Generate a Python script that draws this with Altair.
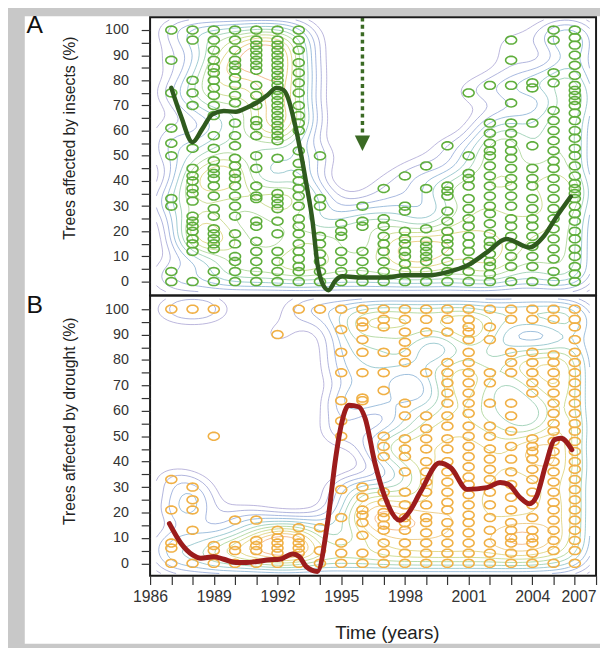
import math
import altair as alt
import numpy as np
import pandas as pd

# ---------------- data ----------------
years = list(range(1987, 2007))

ins_1987 = [100, 88, 75, 61, 55, 50, 33, 30, 4, 0]
ins_1988 = [100, 96, 80, 75, 70, 53, 45, 42, 40, 37, 35, 32, 26, 24, 22, 20, 17, 15, 12, 0]
ins_1989 = [100, 96, 92, 88, 85, 83, 80, 77, 74, 70, 66, 58, 53, 48, 45, 43, 41, 38, 34, 29, 26, 21, 19, 17, 15, 13, 4, 0]
ins_1990 = [100, 96, 92, 88, 86, 84, 81, 78, 74, 71, 63, 58, 54, 49, 46, 43, 41, 38, 34, 30, 26, 19, 15, 10, 8, 4, 0]
ins_1991 = [100, 96, 94, 92, 90, 88, 86, 84, 78, 74, 70, 64, 62, 58, 50, 45, 38, 34, 33, 24, 22, 16, 12, 8, 4, 0]
ins_1992 = [100, 96, 94, 92, 90, 88, 86, 84, 82, 80, 78, 76, 74, 72, 70, 68, 66, 64, 62, 60, 58, 56, 49, 35, 33, 31, 29, 24, 19, 12, 8, 4, 0]
ins_1993 = [100, 96, 92, 87, 83, 79, 75, 70, 66, 63, 60, 52, 47, 43, 40, 37, 34, 30, 25, 22, 19, 15, 12, 9, 6, 4, 0]
ins_1994 = [50, 33, 30, 18, 15, 11, 8, 4, 0]
ins_1995 = [23, 20, 18, 12, 8, 4, 0]
ins_1996 = [30, 24, 22, 12, 8, 4, 0]
ins_1997 = [37, 25, 22, 18, 15, 12, 8, 4, 0]
ins_1998 = [42, 30, 28, 20, 17, 15, 12, 10, 7, 4, 0]
ins_1999 = [46, 37, 21, 16, 14, 12, 10, 8, 4, 0]
ins_2000 = [54, 38, 36, 34, 28, 24, 20, 17, 15, 12, 8, 4, 0]
ins_2001 = [75, 50, 43, 41, 38, 33, 29, 25, 22, 18, 15, 12, 8, 4, 0]
ins_2002 = [78, 63, 59, 55, 52, 50, 46, 42, 38, 34, 30, 27, 23, 19, 16, 14, 11, 8, 6, 3, 0]
ins_2003 = [96, 88, 78, 71, 63, 59, 55, 52, 49, 45, 41, 38, 34, 30, 25, 22, 18, 14, 10, 6, 0]
ins_2004 = [79, 77, 63, 54, 45, 41, 38, 33, 29, 25, 22, 18, 14, 10, 6, 0]
ins_2005 = [100, 96, 83, 79, 68, 64, 60, 56, 52, 48, 45, 41, 37, 33, 29, 25, 21, 17, 13, 9, 4, 0]
ins_2006 = [100, 97, 94, 90, 86, 82, 78, 76, 74, 72, 70, 67, 64, 60, 57, 53, 50, 46, 42, 39, 37, 35, 33, 30, 27, 24, 20, 17, 13, 10, 6, 3, 0]

dro_1987 = [100, 33, 21, 8, 6, 0]
dro_1988 = [100, 30, 25, 21, 13, 0]
dro_1989 = [100, 50, 7, 5, 0]
dro_1990 = [17, 7, 5, 0]
dro_1991 = [17, 9, 7, 5, 0]
dro_1992 = [90, 13, 10, 8, 6, 4, 0]
dro_1993 = [100, 14, 10, 8, 6, 4, 0]
dro_1994 = [100, 14, 5, 0]
dro_1995 = [100, 92, 83, 75, 64, 56, 50, 29, 18, 8, 4, 0]
dro_1996 = [100, 95, 93, 88, 83, 75, 65, 64, 30, 26, 21, 19, 16, 11, 4, 0]
dro_1997 = [100, 96, 93, 83, 75, 68, 50, 46, 42, 28, 24, 20, 18, 15, 13, 8, 4, 0]
dro_1998 = [100, 96, 91, 87, 83, 79, 63, 58, 49, 45, 42, 36, 28, 23, 18, 16, 13, 8, 4, 0]
dro_1999 = [100, 96, 91, 75, 58, 53, 49, 45, 40, 36, 32, 28, 23, 18, 16, 12, 8, 4, 0]
dro_2000 = [100, 96, 91, 79, 75, 71, 67, 63, 58, 54, 49, 45, 40, 36, 32, 28, 24, 21, 16, 12, 8, 4, 0]
dro_2001 = [100, 96, 93, 91, 88, 83, 79, 75, 71, 67, 63, 59, 54, 50, 46, 42, 38, 34, 31, 27, 23, 19, 16, 12, 8, 4, 0]
dro_2002 = [100, 93, 88, 75, 71, 63, 54, 50, 45, 41, 37, 33, 28, 23, 18, 13, 8, 4, 0]
dro_2003 = [100, 96, 83, 79, 75, 63, 58, 52, 46, 41, 36, 31, 26, 21, 16, 13, 10, 8, 4, 0]
dro_2004 = [100, 96, 83, 79, 75, 71, 67, 49, 46, 44, 41, 37, 33, 28, 23, 18, 13, 10, 8, 4, 0]
dro_2005 = [100, 96, 82, 79, 75, 71, 67, 63, 59, 55, 52, 48, 44, 40, 36, 32, 28, 24, 21, 17, 13, 9, 5, 0]
dro_2006 = [100, 96, 93, 88, 83, 79, 75, 71, 67, 63, 59, 55, 52, 48, 44, 40, 37, 33, 29, 25, 21, 17, 13, 9, 5, 0]

ins_line_year = [1987.0, 1987.45, 1988.0, 1988.46, 1988.93, 1989.47, 1990.04, 1990.55, 1991.02,
                 1991.56, 1991.95, 1992.26, 1992.49, 1992.8, 1993.03, 1993.34, 1993.65, 1993.88,
                 1994.12, 1994.4, 1994.74, 1995.05, 1996.02, 1997.06, 1997.99, 1999.07, 2000.0,
                 2000.93, 2001.86, 2002.79, 2003.87, 2004.49, 2005.11, 2005.81]
ins_line_value = [77.0, 65.9, 55.4, 60.7, 66.5, 67.8, 67.5, 69.1, 71.1,
                  74.4, 77.0, 76.3, 73.1, 63.3, 54.1, 39.7, 24.0, 7.1,
                  -0.8, -3.4, 0.5, 2.1, 1.6, 1.6, 2.5, 2.5, 3.8,
                  6.4, 11.6, 16.9, 13.6, 17.5, 25.4, 33.8]

dro_line_year = [1986.91, 1987.46, 1988.0, 1988.39, 1989.0, 1989.47, 1990.04, 1990.55, 1991.02,
                 1991.64, 1992.1, 1992.72, 1993.03, 1993.34, 1993.88, 1994.35, 1994.74, 1994.97,
                 1995.36, 1995.82, 1996.13, 1996.59, 1997.06, 1997.76, 1998.14, 1998.76, 1999.62,
                 2000.16, 2000.93, 2001.86, 2002.48, 2002.87, 2003.41, 2003.87, 2004.18, 2004.65,
                 2005.04, 2005.35, 2005.86]
dro_line_value = [15.6, 7.8, 3.3, 2.0, 2.6, 1.6, 0.3, 0.3, 0.7,
                  1.4, 1.6, 3.7, 2.6, -1.2, -3.2, 15.6, 41.5, 53.1,
                  62.2, 61.6, 57.0, 39.3, 26.0, 16.9, 19.5, 28.5, 39.5,
                  37.6, 29.1, 29.8, 31.8, 31.1, 26.0, 23.4, 26.0, 39.3,
                  48.6, 49.2, 44.7]

arrow_year = [1996]
arrow_top = [105]
arrow_end = [58]
arrow_head = [55]

x_ticks = list(range(1986, 2008))
y_ticks = list(range(0, 101, 5))

insect_columns = [ins_1987, ins_1988, ins_1989, ins_1990, ins_1991, ins_1992, ins_1993, ins_1994,
                  ins_1995, ins_1996, ins_1997, ins_1998, ins_1999, ins_2000, ins_2001, ins_2002,
                  ins_2003, ins_2004, ins_2005, ins_2006]
drought_columns = [dro_1987, dro_1988, dro_1989, dro_1990, dro_1991, dro_1992, dro_1993, dro_1994,
                   dro_1995, dro_1996, dro_1997, dro_1998, dro_1999, dro_2000, dro_2001, dro_2002,
                   dro_2003, dro_2004, dro_2005, dro_2006]

# ---------------- helpers ----------------
FONT = "Liberation Sans"
PAL = ["#9a92cc", "#8a90cc", "#7c95d0", "#6ea0cc", "#6fb2bb", "#7cc09c", "#94c87a",
       "#b6cc62", "#d4c657", "#e6b552", "#ee9c5c"]
FRACS = [0.11, 0.17, 0.24, 0.31, 0.39, 0.47, 0.55, 0.63, 0.71, 0.79, 0.87]

ell = [(math.cos(t), 0.72 * math.sin(t)) for t in np.linspace(0, 2 * math.pi, 28, endpoint=False)]
ELLIPSE = "M" + "L".join(f"{a:.3f},{b:.3f}" for a, b in ell) + "Z"


def points_frame(cols):
    rows = []
    for yr, vals in zip(years, cols):
        for v in vals:
            rows.append({"year": yr, "value": v})
    return pd.DataFrame(rows)


def contour_frame(df):
    gx = np.linspace(1986.3, 2006.7, 104)
    gy = np.linspace(-4.0, 104.0, 92)
    X, Y = np.meshgrid(gx, gy)
    Z = np.zeros_like(X)
    for px, py in zip(df["year"], df["value"]):
        Z += np.exp(-0.5 * (((X - px) / 0.9) ** 2 + ((Y - py) / 5.0) ** 2))
    zmax = float(Z.max())
    rows = []
    ny, nx = Z.shape
    for li, fr in enumerate(FRACS):
        lev = fr * zmax
        above = (Z > lev).astype(int)
        for j in range(ny - 1):
            for i in range(nx - 1):
                s = int(above[j, i] + above[j, i + 1] + above[j + 1, i + 1] + above[j + 1, i])
                if s == 0 or s == 4:
                    continue
                c = [(gx[i], gy[j], Z[j, i]), (gx[i + 1], gy[j], Z[j, i + 1]),
                     (gx[i + 1], gy[j + 1], Z[j + 1, i + 1]), (gx[i], gy[j + 1], Z[j + 1, i])]
                pts = []
                for k in range(4):
                    x0, y0, z0 = c[k]
                    x1, y1, z1 = c[(k + 1) % 4]
                    if (z0 > lev) != (z1 > lev):
                        t = (lev - z0) / (z1 - z0)
                        pts.append((x0 + t * (x1 - x0), y0 + t * (y1 - y0)))
                if len(pts) == 2:
                    pairs = [(pts[0], pts[1])]
                elif len(pts) == 4:
                    pairs = [(pts[0], pts[1]), (pts[2], pts[3])]
                else:
                    pairs = []
                for a, b in pairs:
                    rows.append({"x": round(float(a[0]), 3), "y": round(float(a[1]), 3),
                                 "x2": round(float(b[0]), 3), "y2": round(float(b[1]), 3),
                                 "lvl": li})
    return pd.DataFrame(rows)


one = pd.DataFrame({"k": [0]})
xs = alt.Scale(domain=[1986, 2007], nice=False, zero=False)
ysA = alt.Scale(domain=[-5.5, 105.1], nice=False, zero=False)
ysB = alt.Scale(domain=[-4.85, 105.4], nice=False, zero=False)
cscale = alt.Scale(domain=list(range(len(FRACS))), range=PAL)


def yaxis(title, ty):
    return alt.Axis(values=y_ticks, labelExpr="datum.value % 10 === 0 ? datum.label : ''",
                    title=title, titleFont=FONT, titleFontSize=16, titleFontWeight="normal",
                    titleColor="#222", titlePadding=27, titleY=ty, labelFont=FONT,
                    labelFontSize=14.5, labelColor="#333", labelPadding=13, tickSize=9,
                    tickColor="#333", tickWidth=1.2, domain=False, grid=False, zindex=1,
                    labelOverlap=False)


xaxisB = alt.Axis(values=x_ticks, format="d",
                  labelExpr="(datum.value - 1986) % 3 === 0 ? datum.label : ''",
                  labelAlign={"condition": {"test": "datum.value === 2007", "value": "right"},
                              "value": "center"},
                  labelFont=FONT, labelFontSize=16, labelColor="#333", labelPadding=4,
                  tickSize=9, tickColor="#333", tickWidth=1.2, domain=False, grid=False,
                  labelOverlap=False, title="Time (years)", titleFont=FONT, titleFontSize=19,
                  titleFontWeight="normal", titleColor="#222", titlePadding=20, titleX=240,
                  zindex=1)

yaxA = yaxis("Trees affected by insects (%)", 122)
yaxB = yaxis("Trees affected by drought (%)", 127)


def panel(cols, lx, ly, ys, yax, xax, ccol, lcol, lw, letter, letter_y, h, extra=None, bg=None):
    pts = points_frame(cols)
    cont = contour_frame(pts)
    line_df = pd.DataFrame({"year": lx, "value": ly})
    layers = []
    if bg is not None:
        layers.append(bg)
    layers.append(alt.Chart(cont).mark_rule(strokeWidth=0.9, opacity=0.75, clip=True).encode(
        x=alt.X("x:Q", scale=xs, axis=xax), x2="x2:Q",
        y=alt.Y("y:Q", scale=ys, axis=yax), y2="y2:Q",
        color=alt.Color("lvl:O", scale=cscale, legend=None)))
    layers.append(alt.Chart(pts).mark_point(shape=ELLIPSE, size=124, filled=False,
                                             strokeWidth=1.6, color=ccol, opacity=1).encode(
        x=alt.X("year:Q", scale=xs, axis=xax), y=alt.Y("value:Q", scale=ys, axis=yax)))
    layers.append(alt.Chart(line_df).mark_line(interpolate="monotone", strokeWidth=lw,
                                                color=lcol, strokeCap="round",
                                                strokeJoin="round").encode(
        x=alt.X("year:Q", scale=xs, axis=xax), y=alt.Y("value:Q", scale=ys, axis=yax)))
    if extra:
        layers.extend(extra)
    layers.append(alt.Chart(one).mark_text(text=letter, font=FONT, fontSize=25, color="#111",
                                           align="center", baseline="middle").encode(
        x=alt.value(-117), y=alt.value(letter_y)))
    layers.append(alt.Chart(one).mark_rect(filled=False, stroke="#1a1a1a", strokeWidth=2).encode(
        x=alt.value(0), x2=alt.value("width"), y=alt.value(0), y2=alt.value("height")))
    return alt.layer(*layers).properties(width=452, height=h)


bg_rect = alt.Chart(one).mark_rect(color="white").encode(
    x=alt.value(-127), x2=alt.value(456), y=alt.value(-1), y2=alt.value(635))

arrow_df = pd.DataFrame({"year": arrow_year, "top": arrow_top, "end": arrow_end, "head": arrow_head})
arrow = alt.Chart(arrow_df).mark_rule(strokeDash=[4, 3.5], strokeWidth=3.5, color="#3b6a24").encode(
    x=alt.X("year:Q", scale=xs, axis=None), y=alt.Y("top:Q", scale=ysA, axis=yaxA), y2="end:Q")
arrowhead = alt.Chart(arrow_df).mark_point(shape="M-1,-1L1,-1L0,1Z", size=240, filled=True,
                                            color="#3b6a24", opacity=1).encode(
    x=alt.X("year:Q", scale=xs, axis=None), y=alt.Y("head:Q", scale=ysA, axis=yaxA))

panelA = panel(insect_columns, ins_line_year, ins_line_value, ysA, yaxA, None,
               "#5fae3c", "#2f5a1e", 4.5, "A", 8.5, 282, extra=[arrow, arrowhead], bg=bg_rect)
panelB = panel(drought_columns, dro_line_year, dro_line_value, ysB, yaxB, xaxisB,
               "#f0b045", "#9c1c1c", 5, "B", 9.5, 284)

chart = alt.vconcat(panelA, panelB, spacing=0, bounds="flush").properties(
    padding={"left": 17, "top": 1, "right": 0, "bottom": 0}
).configure(background="#c8c8c8").configure_view(stroke=None)

chart.save("out.html", embed_options={"renderer": "svg", "actions": False})
